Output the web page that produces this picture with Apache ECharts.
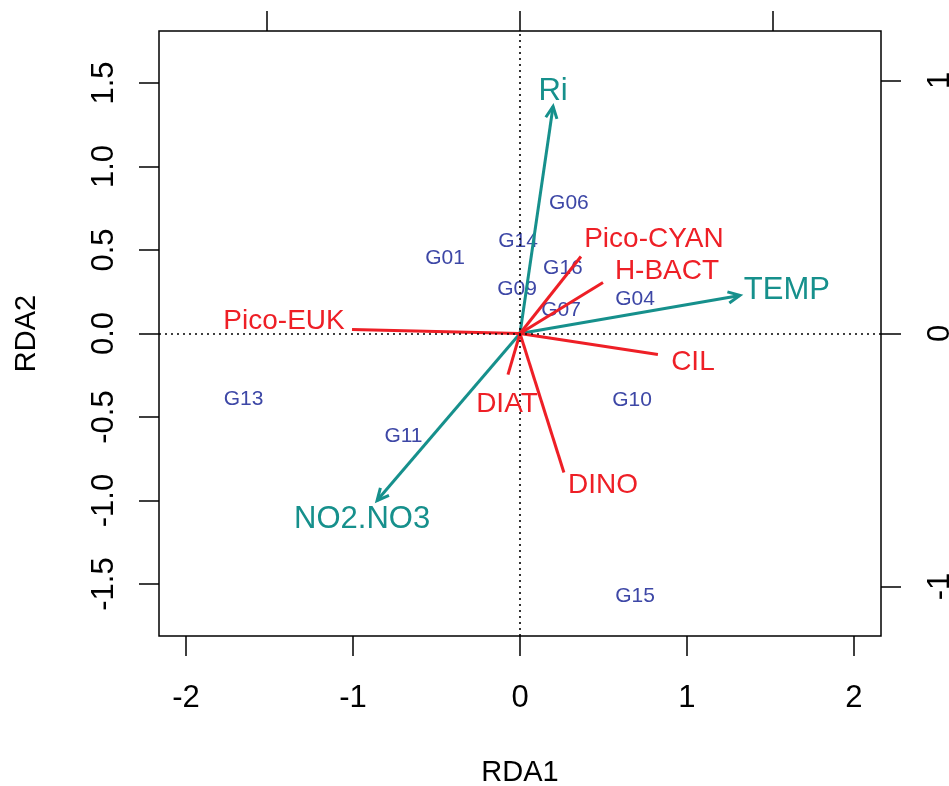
<!DOCTYPE html>
<html><head><meta charset="utf-8">
<script src="https://cdn.jsdelivr.net/npm/echarts@6/dist/echarts.min.js"></script>
<style>html,body{margin:0;padding:0;background:#fff}#c{width:949px;height:786px}</style>
</head><body><div id="c"></div>
<script>
// ---- data ----
const siteNames = ['G01','G04','G06','G07','G09','G10','G11','G13','G14','G15','G16'];
const siteRDA1  = [-0.449, 0.689, 0.293, 0.246, -0.018, 0.671, -0.698, -1.656, -0.012, 0.689, 0.257];
const siteRDA2  = [ 0.458, 0.210, 0.787, 0.144,  0.269, -0.395, -0.608, -0.389, 0.557, -1.569, 0.398];

const speciesNames = ['Pico-CYAN','H-BACT','Pico-EUK','CIL','DIAT','DINO'];
const speciesRDA1  = [0.365, 0.497, -1.006, 0.826, -0.072, 0.263];
const speciesRDA2  = [0.461, 0.305,  0.024, -0.126, -0.246, -0.832];

const envNames = ['Ri','TEMP','NO2.NO3'];
const envRDA1  = [0.198, 1.317, -0.856];
const envRDA2  = [1.359, 0.228, -1.000];

const xTicks = [-2, -1, 0, 1, 2];
const yTicks = [-1.5, -1.0, -0.5, 0.0, 0.5, 1.0, 1.5];
const topTicks = [-1, 0, 1];
const rightTicks = [-1, 0, 1];

// ---- styles / layout ----
const FONT = 'Liberation Sans, Arial, sans-serif';
const BLUE = '#3d47a6', RED = '#ee1f26', TEAL = '#16908c';
const XR = 2.162, YR = 1.811, SEC = 1.515;
const DY = 1;
const speciesOffset = {'Pico-CYAN':[73,-18+DY],'H-BACT':[64,-12+DY],'Pico-EUK':[-68,-9+DY],'CIL':[35,7+DY],'DIAT':[-1,29+DY],'DINO':[39,12+DY]};
const envOffset = {'Ri':[0,-16+DY],'TEMP':[47,-6+DY],'NO2.NO3':[-15,18+DY]};

function vec(withHead, color){
  return function(params, api){
    const o = api.coord([0,0]);
    const p = api.coord([api.value(0), api.value(1)]);
    const ch = [{type:'line', shape:{x1:o[0],y1:o[1],x2:p[0],y2:p[1]}, style:{stroke:color, lineWidth:3}}];
    if (withHead){
      const ang = Math.atan2(p[1]-o[1], p[0]-o[0]);
      const L = 13, a = Math.PI/7;
      ch.push({type:'polyline', shape:{points:[
        [p[0]-L*Math.cos(ang-a), p[1]-L*Math.sin(ang-a)], [p[0],p[1]],
        [p[0]-L*Math.cos(ang+a), p[1]-L*Math.sin(ang+a)]]},
        style:{stroke:color, lineWidth:3, fill:null, lineJoin:'miter'}});
    }
    return {type:'group', children:ch};
  };
}
const tickStyle = {color:'#000', width:1.5};
const hidden = {color:'rgba(0,0,0,0)', opacity:1};

const option = {
  animation:false,
  backgroundColor:'#fff',
  grid:{left:159, top:31, width:722, height:605, show:true, borderColor:'#000', borderWidth:1.5,
        containLabel:false, outerBoundsMode:'none'},
  xAxis:[
    {type:'value', position:'bottom', min:-XR, max:XR, splitLine:{show:false},
     axisLine:{show:false, onZero:false},
     axisTick:{customValues:xTicks, length:20, lineStyle:tickStyle},
     axisLabel:{customValues:xTicks, fontSize:31, fontFamily:FONT, color:'#000', margin:47},
     name:'RDA1', nameLocation:'middle', nameGap:122,
     nameTextStyle:{fontSize:29, fontFamily:FONT, color:'#000'}},
    {type:'value', position:'top', min:-XR/SEC, max:XR/SEC, splitLine:{show:false},
     axisLine:{show:false, onZero:false},
     axisTick:{customValues:topTicks, length:20, lineStyle:tickStyle},
     axisLabel:{show:false}}
  ],
  yAxis:[
    {type:'value', position:'left', min:-YR, max:YR, splitLine:{show:false},
     axisLine:{show:false, onZero:false},
     axisTick:{customValues:yTicks, length:20, lineStyle:tickStyle},
     axisLabel:{customValues:yTicks, rotate:90, fontSize:31, fontFamily:FONT, color:'#000', margin:39,
       formatter:v=>v.toFixed(1)},
     name:'RDA2', nameLocation:'middle', nameGap:118, nameRotate:90,
     nameTextStyle:{fontSize:29, fontFamily:FONT, color:'#000'}},
    {type:'value', position:'right', min:-YR/SEC, max:YR/SEC, splitLine:{show:false},
     axisLine:{show:false, onZero:false},
     axisTick:{customValues:rightTicks, length:20, lineStyle:tickStyle},
     axisLabel:{customValues:rightTicks, rotate:90, fontSize:31, fontFamily:FONT, color:'#000', margin:44,
       formatter:v=>String(v)}}
  ],
  series:[
    {type:'scatter', xAxisIndex:0, yAxisIndex:0, silent:true, symbolSize:0, data:[],
     markLine:{silent:true, symbol:['none','none'], label:{show:false},
       lineStyle:{type:[2,4], color:'#000', width:1.6},
       data:[{xAxis:0},{yAxis:0}]}, z:1},
    {type:'scatter', name:'sites', silent:true, symbolSize:1, itemStyle:hidden,
     data: siteNames.map((n,i)=>({name:n, value:[siteRDA1[i], siteRDA2[i]]})),
     label:{show:true, position:'inside', offset:[0,DY], formatter:'{b}', fontSize:21, fontFamily:FONT, color:BLUE}, z:2},
    {type:'custom', name:'env', silent:true, renderItem:vec(true, TEAL),
     data: envNames.map((n,i)=>[envRDA1[i], envRDA2[i]]), z:3},
    {type:'custom', name:'species', silent:true, renderItem:vec(false, RED),
     data: speciesNames.map((n,i)=>[speciesRDA1[i], speciesRDA2[i]]), z:4},
    {type:'scatter', name:'speciesLabels', silent:true, symbolSize:1, itemStyle:hidden,
     data: speciesNames.map((n,i)=>({name:n, value:[speciesRDA1[i], speciesRDA2[i]],
       label:{offset:speciesOffset[n]}})),
     label:{show:true, position:'inside', formatter:'{b}', fontSize:28, fontFamily:FONT, color:RED}, z:5},
    {type:'scatter', name:'envLabels', silent:true, symbolSize:1, itemStyle:hidden,
     data: envNames.map((n,i)=>({name:n, value:[envRDA1[i], envRDA2[i]],
       label:{offset:envOffset[n]}})),
     label:{show:true, position:'inside', formatter:'{b}', fontSize:31, fontFamily:FONT, color:TEAL}, z:5}
  ]
};
const chart = echarts.init(document.getElementById('c'), null, {renderer:'canvas'});
chart.setOption(option);
</script></body></html>
